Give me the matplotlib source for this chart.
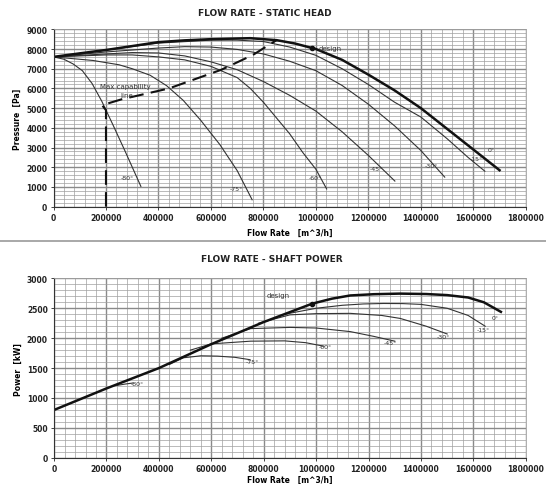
import numpy as np
import matplotlib
matplotlib.use("Agg")
import matplotlib.pyplot as plt
from matplotlib.ticker import MultipleLocator, FuncFormatter
from matplotlib.lines import Line2D

# ---- static head curves (flow m^3/h, pressure Pa) ----
head_0_x = [0, 100000, 200000, 300000, 400000, 500000, 600000, 750000, 850000, 920000, 1000000, 1100000, 1200000, 1300000, 1400000, 1500000, 1600000, 1700000]
head_0_y = [7600, 7780, 7950, 8150, 8350, 8440, 8500, 8550, 8450, 8280, 8000, 7450, 6700, 5900, 5000, 3950, 2900, 1850]
head_15_x = [0, 200000, 400000, 600000, 700000, 800000, 900000, 1000000, 1100000, 1200000, 1300000, 1400000, 1500000, 1580000, 1644000]
head_15_y = [7600, 7950, 8300, 8450, 8450, 8380, 8100, 7680, 7000, 6200, 5300, 4550, 3450, 2500, 1800]
head_30_x = [0, 200000, 400000, 500000, 600000, 700000, 800000, 900000, 1000000, 1100000, 1200000, 1300000, 1400000, 1491000]
head_30_y = [7600, 7850, 8050, 8120, 8100, 7980, 7750, 7380, 6900, 6150, 5200, 4100, 2850, 1500]
head_45_x = [0, 200000, 300000, 400000, 500000, 600000, 700000, 800000, 900000, 1000000, 1100000, 1200000, 1301000]
head_45_y = [7600, 7750, 7820, 7800, 7650, 7350, 6950, 6350, 5650, 4850, 3800, 2600, 1300]
head_60_x = [0, 200000, 300000, 400000, 500000, 600000, 700000, 750000, 800000, 850000, 900000, 950000, 1000000, 1041000]
head_60_y = [7600, 7700, 7700, 7600, 7450, 7120, 6550, 6000, 5300, 4500, 3700, 2750, 1900, 900]
head_75_x = [0, 150000, 250000, 300000, 368000, 431000, 494000, 560000, 634000, 700000, 757000]
head_75_y = [7600, 7420, 7200, 7000, 6670, 6140, 5400, 4400, 3150, 1830, 350]
head_80_x = [0, 40000, 75000, 110000, 147000, 184000, 228000, 272000, 333000]
head_80_y = [7600, 7480, 7240, 6900, 6250, 5350, 4110, 2840, 1030]
max_line_x = [200000, 200000, 185000, 260000, 440000, 640000, 760000, 850000]
max_line_y = [0, 4900, 5150, 5450, 6000, 6950, 7700, 8450]
head_design = (985000, 8070)

# ---- shaft power curves (flow m^3/h, power kW) ----
pow_0_x = [0, 200000, 400000, 600000, 800000, 985000, 1060000, 1130000, 1220000, 1320000, 1420000, 1500000, 1580000, 1640000, 1705000]
pow_0_y = [800, 1160, 1500, 1900, 2270, 2577, 2660, 2714, 2735, 2745, 2738, 2720, 2680, 2600, 2440]
pow_15_x = [880000, 1000000, 1100000, 1180000, 1257000, 1330000, 1400000, 1500000, 1580000, 1645000]
pow_15_y = [2400, 2500, 2550, 2572, 2580, 2578, 2565, 2500, 2380, 2200]
pow_30_x = [780000, 900000, 1000000, 1130000, 1250000, 1321000, 1420000, 1500000]
pow_30_y = [2250, 2390, 2410, 2415, 2380, 2330, 2200, 2070]
pow_45_x = [640000, 750000, 900000, 1000000, 1130000, 1220000, 1300000]
pow_45_y = [2000, 2160, 2180, 2170, 2110, 2030, 1950]
pow_60_x = [520000, 600000, 750000, 880000, 960000, 1030000]
pow_60_y = [1800, 1905, 1950, 1955, 1925, 1865]
pow_75_x = [440000, 493000, 560000, 623000, 690000, 748000]
pow_75_y = [1560, 1672, 1705, 1700, 1680, 1640]
pow_80_x = [240000, 270000, 300000]
pow_80_y = [1210, 1232, 1250]
pow_design = (984000, 2577)

head_labels = [("-80°", 280000, 1500), ("-75°", 698000, 900), ("-60°", 996000, 1460),
               ("-45°", 1231000, 1950), ("-30°", 1441000, 2080), ("-15°", 1612000, 2420),
               ("0°", 1669000, 2880)]
pow_labels = [("-80°", 316000, 1234), ("-75°", 756000, 1607), ("-60°", 1034000, 1853),
              ("-45°", 1282000, 1920), ("-30°", 1486000, 2030), ("-15°", 1637000, 2138),
              ("0°", 1683000, 2342)]

fig = plt.figure(figsize=(5.46, 4.85), dpi=100)
fig.patch.set_facecolor("white")

ax1 = fig.add_axes([0.098, 0.5718, 0.865, 0.3657])
ax2 = fig.add_axes([0.099, 0.054, 0.864, 0.370])

fmt = FuncFormatter(lambda v, p: f"{int(v)}")


def style_axis(ax, ymax, ymajor, yminor):
    ax.set_xlim(0, 1800000)
    ax.set_ylim(0, ymax)
    ax.xaxis.set_major_locator(MultipleLocator(200000))
    ax.xaxis.set_minor_locator(MultipleLocator(40000))
    ax.yaxis.set_major_locator(MultipleLocator(ymajor))
    ax.yaxis.set_minor_locator(MultipleLocator(yminor))
    ax.xaxis.set_major_formatter(fmt)
    ax.yaxis.set_major_formatter(fmt)
    ax.grid(True, which="major", color="#8a8a8a", linewidth=1.0)
    ax.grid(True, which="minor", color="#a0a0a0", linewidth=0.5)
    ax.set_axisbelow(True)
    ax.tick_params(axis="both", which="major", labelsize=5.5, length=2.5, width=0.6,
                   colors="#222222", pad=2)
    ax.tick_params(axis="both", which="minor", length=0)
    for side in ["top", "right"]:
        ax.spines[side].set_color("#a0a0a0")
        ax.spines[side].set_linewidth(0.6)
    for side in ["left", "bottom"]:
        ax.spines[side].set_color("#333333")
        ax.spines[side].set_linewidth(0.8)
    for lab in ax.get_xticklabels() + ax.get_yticklabels():
        lab.set_fontweight("bold")


# top chart
style_axis(ax1, 9000, 1000, 200)
thin = dict(color="#333333", linewidth=0.8)
for xs, ys in [(head_15_x, head_15_y), (head_30_x, head_30_y), (head_45_x, head_45_y),
               (head_60_x, head_60_y), (head_75_x, head_75_y), (head_80_x, head_80_y)]:
    ax1.plot(xs, ys, **thin)
ax1.plot(head_0_x, head_0_y, color="#111111", linewidth=1.8)
ax1.plot(max_line_x, max_line_y, color="#111111", linewidth=1.5, dashes=(7, 3.5))
ax1.plot(*head_design, marker="o", color="#111111", markersize=3)
ax1.text(head_design[0] + 25000, head_design[1], "design", fontsize=5, va="center", color="#333333")
ax1.text(272000, 6110, "Max capability", fontsize=5, ha="center", va="center", color="#333333")
ax1.text(280000, 5680, "line", fontsize=5, ha="center", va="center", color="#333333")
for txt, x, y in head_labels:
    ax1.text(x, y, txt, fontsize=4.5, ha="center", va="center", color="#333333")
ax1.set_xlabel("Flow Rate   [m^3/h]", fontsize=5.5, fontweight="bold", labelpad=4)
ax1.set_ylabel("Pressure  [Pa]", fontsize=5.5, fontweight="bold", labelpad=3)

# bottom chart
style_axis(ax2, 3000, 500, 100)
for xs, ys in [(pow_15_x, pow_15_y), (pow_30_x, pow_30_y), (pow_45_x, pow_45_y),
               (pow_60_x, pow_60_y), (pow_75_x, pow_75_y), (pow_80_x, pow_80_y)]:
    ax2.plot(xs, ys, **thin)
ax2.plot(pow_0_x, pow_0_y, color="#111111", linewidth=1.8)
ax2.plot(*pow_design, marker="o", color="#111111", markersize=3)
ax2.text(855000, 2720, "design", fontsize=5, ha="center", va="center", color="#333333")
for txt, x, y in pow_labels:
    ax2.text(x, y, txt, fontsize=4.5, ha="center", va="center", color="#333333")
ax2.set_xlabel("Flow Rate   [m^3/h]", fontsize=5.5, fontweight="bold", labelpad=1)
ax2.set_ylabel("Power  [kW]", fontsize=5.5, fontweight="bold", labelpad=3)

fig.text(265 / 546, 1 - 14 / 485, "FLOW RATE - STATIC HEAD", fontsize=6.5,
         fontweight="bold", ha="center", va="center", color="#222222")
fig.text(272 / 546, 1 - 260 / 485, "FLOW RATE - SHAFT POWER", fontsize=6.5,
         fontweight="bold", ha="center", va="center", color="#222222")
fig.add_artist(Line2D([0, 1], [1 - 242 / 485, 1 - 242 / 485], transform=fig.transFigure,
                      color="#999999", linewidth=1.2))

fig.savefig("out.png", dpi=100)
